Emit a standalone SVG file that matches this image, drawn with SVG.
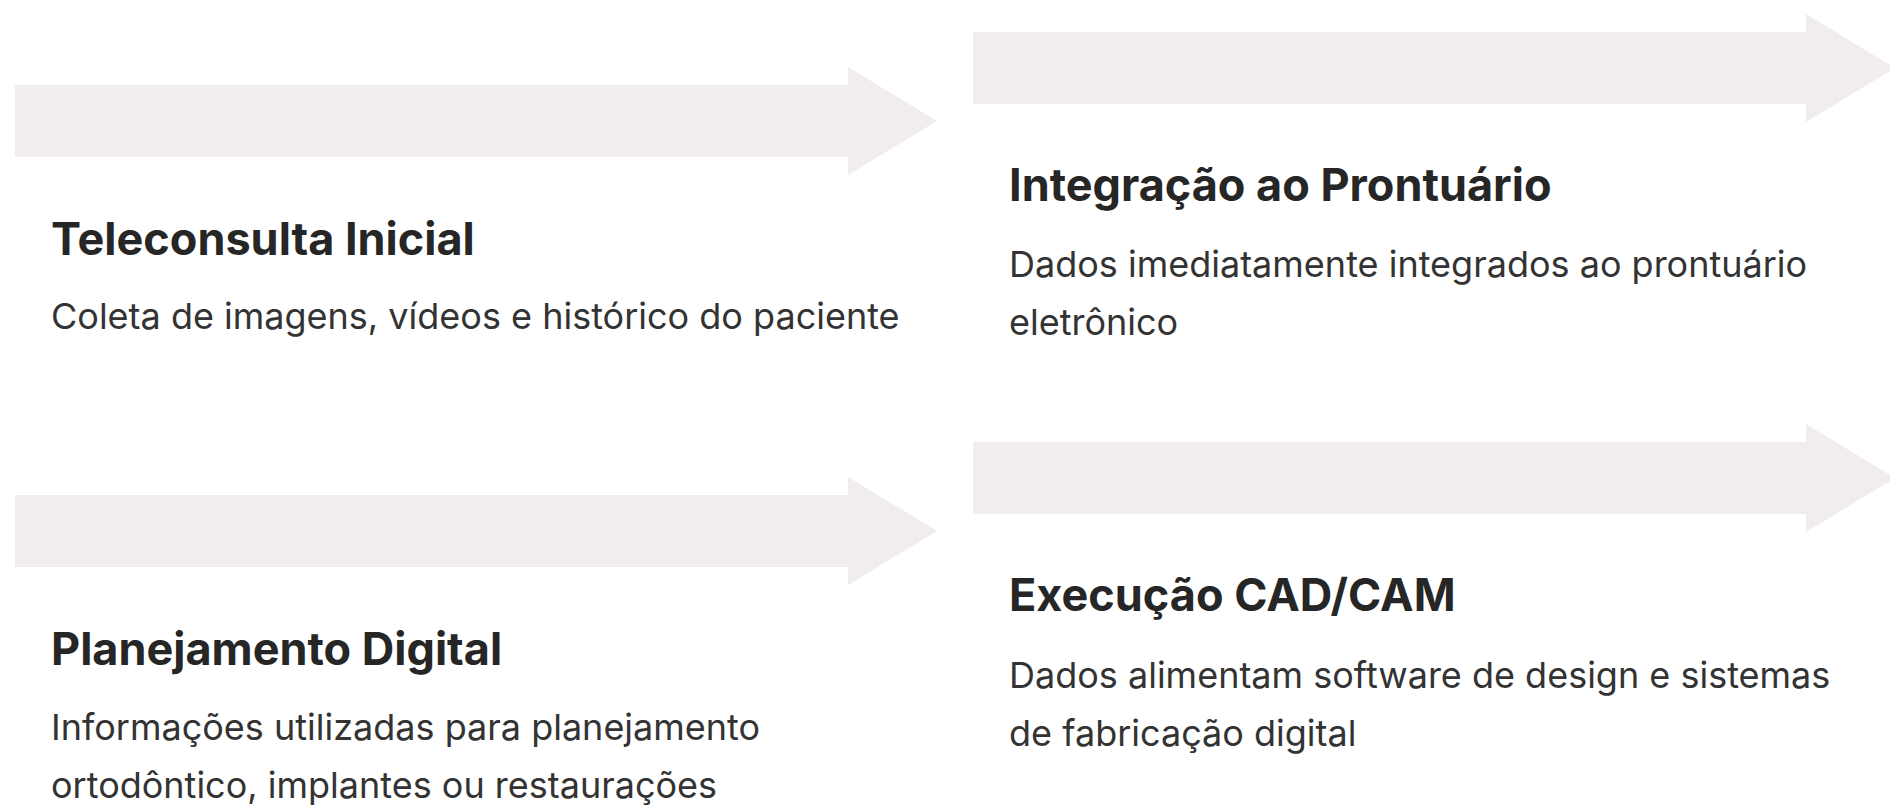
<svg xmlns="http://www.w3.org/2000/svg" width="1890" height="805" viewBox="0 0 1890 805">
<defs>
<style>
.arrow{fill:#F0EDEC;}
.title{font-family:Inter,"Liberation Sans",sans-serif;font-weight:700;font-size:45px;fill:#262626;}
.desc{font-family:Inter,"Liberation Sans",sans-serif;font-weight:400;font-size:36px;fill:#333333;}
</style>
<path id="arr" d="M0,18 H833 V0 L922,54 L833,108 V90 H0 Z"/>
</defs>
<rect width="1890" height="805" fill="#ffffff"/>
<g id="connectors">
<use href="#arr" class="arrow" x="15" y="67"/>
<use href="#arr" class="arrow" x="973" y="14"/>
<use href="#arr" class="arrow" x="15" y="477"/>
<use href="#arr" class="arrow" x="973" y="424"/>
</g>
<g id="node-teleconsulta">
<text class="title" x="51" y="255">Teleconsulta Inicial</text>
<text class="desc" x="51" y="329">Coleta de imagens, vídeos e histórico do paciente</text>
</g>
<g id="node-integracao">
<text class="title" x="1009" y="201">Integração ao Prontuário</text>
<text class="desc" x="1009" y="277">Dados imediatamente integrados ao prontuário</text>
<text class="desc" x="1009" y="335">eletrônico</text>
</g>
<g id="node-planejamento">
<text class="title" x="51" y="665">Planejamento Digital</text>
<text class="desc" x="51" y="740">Informações utilizadas para planejamento</text>
<text class="desc" x="51" y="798">ortodôntico, implantes ou restaurações</text>
</g>
<g id="node-execucao">
<text class="title" x="1009" y="611">Execução CAD/CAM</text>
<text class="desc" x="1009" y="688">Dados alimentam software de design e sistemas</text>
<text class="desc" x="1009" y="746">de fabricação digital</text>
</g>
</svg>
